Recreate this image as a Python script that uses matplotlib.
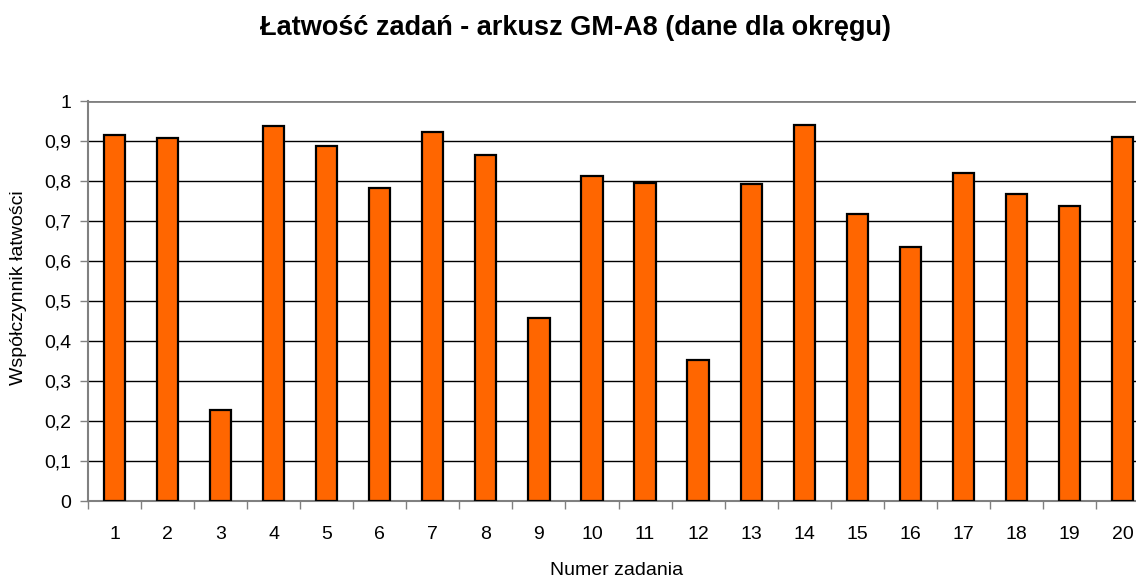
import numpy as np
import matplotlib.pyplot as plt

plt.rcParams['font.family'] = ['Liberation Sans', 'DejaVu Sans']

# Numery zadan i wspolczynniki latwosci
zadania = [str(i) for i in range(1, 21)]
latwosc = [0.915, 0.907, 0.227, 0.938, 0.888, 0.782, 0.922, 0.864, 0.458, 0.813,
           0.796, 0.352, 0.793, 0.940, 0.717, 0.635, 0.820, 0.767, 0.738, 0.910]

W, H = 1136, 578
fig = plt.figure(figsize=(W / 100, H / 100), dpi=100)
# obszar wykresu wychodzi poza prawa krawedz (ostatnia kolumna jest przycieta)
ax = fig.add_axes([88 / W, 1 - 501 / H, 1061 / W, 400 / H])

x = np.arange(len(zadania))
ax.bar(x, latwosc, width=0.40, color='#FF6600', edgecolor='black',
       linewidth=1.6, zorder=3)

ax.set_xlim(-0.5, len(zadania) - 0.5)
ax.set_ylim(0, 1)

# siatka pozioma
yt = np.round(np.arange(0, 1.01, 0.1), 1)
for v in yt[1:-1]:
    ax.axhline(v, color='black', linewidth=1.0, zorder=1)
ax.axhline(1.0, color='#808080', linewidth=2.0, zorder=1)

ax.set_yticks(yt)
ax.set_yticklabels([('%g' % v).replace('.', ',') for v in yt])
ax.tick_params(axis='y', length=6, width=1, color='#808080', pad=6, labelsize=14)

ax.set_xticks(x)
ax.set_xticklabels(zadania)
ax.set_xticks(np.arange(-0.5, len(zadania)), minor=True)
ax.tick_params(axis='x', which='major', length=0, pad=18, labelsize=14)
ax.tick_params(axis='x', which='minor', length=6, width=1, color='#808080')

for s in ['top', 'right']:
    ax.spines[s].set_visible(False)
for s in ['left', 'bottom']:
    ax.spines[s].set_color('#808080')
    ax.spines[s].set_linewidth(1.5)

fig.text(19 / W, 1 - 288 / H, 'Współczynnik łatwości', rotation=90,
         ha='center', va='center', fontsize=14)
fig.text(617 / W, 1 - 575 / H, 'Numer zadania', ha='center', va='baseline',
         fontsize=14)
fig.text(575 / W, 1 - 35 / H, 'Łatwość zadań - arkusz GM-A8 (dane dla okręgu)',
         ha='center', va='baseline', fontsize=19.5, fontweight='bold')

fig.savefig('out.png', dpi=100)
